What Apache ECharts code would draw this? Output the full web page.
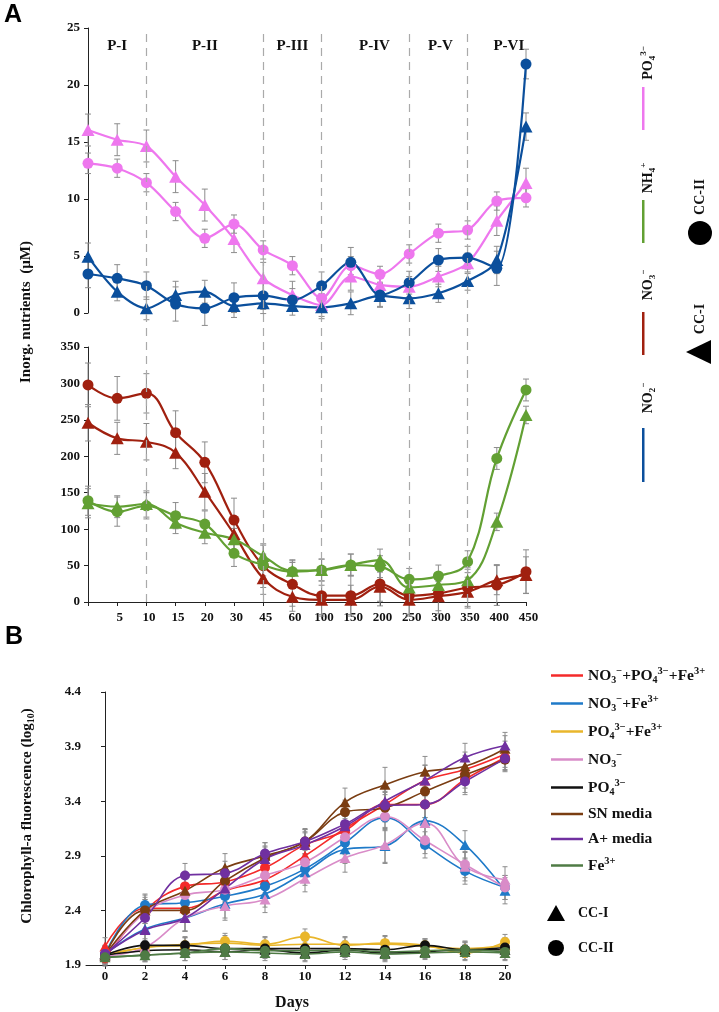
<!DOCTYPE html>
<html><head><meta charset="utf-8">
<script src="https://cdn.jsdelivr.net/npm/echarts@6/dist/echarts.min.js"></script>
<style>html,body{margin:0;padding:0;background:#fff}#c{width:719px;height:1012px}</style>
</head><body><div id="c"></div>
<script>
// ---------- Panel A data ----------
const sampleLabels = ['0','5','10','15','20','30','45','60','100','150','200','250','300','350','400','450'];
const periodBounds = ['0','10','45','100','250','350','450'];
const periodNames = ['P-I','P-II','P-III','P-IV','P-V','P-VI'];
const po4CC1 = [16.05,15.2,14.65,11.96,9.47,6.5,3.04,1.58,0.7,3.2,2.46,2.3,3.2,4.36,8.1,11.4];
const po4CC2 = [13.13,12.7,11.43,8.9,6.55,7.8,5.53,4.15,1.3,4.15,3.4,5.18,7.0,7.28,9.82,10.1];
const no2CC1 = [4.94,1.87,0.41,1.58,1.87,0.61,0.85,0.61,0.5,0.85,1.5,1.29,1.73,2.8,4.65,16.35];
const no2CC2 = [3.42,3.04,2.4,0.79,0.41,1.34,1.52,1.14,2.4,4.45,1.58,2.66,4.65,4.85,3.92,21.84];
const no3CC1 = [246,224.6,220,205,151.4,93.3,32.5,7.3,3,3,21,3,8,14,30,37];
const no3CC2 = [298,279.5,286.4,232.4,191.7,112.5,49.9,24.2,8.7,8.7,24.7,8.7,11.9,19.7,23.3,41.6];
const nh4CC1 = [135.5,130.8,134.5,108.9,95,86,63,43,43.9,50.8,57.6,20,23.3,30,110,256.7];
const nh4CC2 = [139,124,132,118.5,107,66.8,50.8,41.6,43.9,50.8,48.5,31.1,35.7,55.3,197,291];
const po4CC1Err = [1.4,1.4,1.4,1.4,1.4,1.2,1.4,1.2,1.0,1.2,1.0,0.9,0.9,0.9,1.3,1.3];
const po4CC2Err = [0.9,0.8,0.8,0.8,0.8,0.8,0.8,0.8,0.8,0.8,0.7,0.8,0.8,0.8,0.8,0.8];
const no2CC1Err = [1.2,0.8,1.0,1.2,1.0,1.0,0.9,0.8,1.0,1.0,1.0,0.9,0.8,0.8,1.2,1.2];
const no2CC2Err = [1.2,1.2,1.2,1.5,1.5,1.3,1.2,1.0,1.2,1.3,1.0,1.0,1.0,1.0,1.5,1.3];
const no3CC1Err = [25,22,25,22,25,22,22,20,20,20,20,20,20,20,20,25];
const no3CC2Err = [30,30,27,30,28,30,30,30,28,28,30,28,28,28,28,30];
const nh4CC1Err = [20,15,18,15,15,15,15,15,15,15,15,15,15,15,12,12];
const nh4CC2Err = [20,20,18,18,18,18,15,15,15,15,15,15,15,15,15,15];

// ---------- Panel B data ----------
const days = [0,2,4,6,8,10,12,14,16,18,20];
const bNames = ['NO3+PO4+Fe','NO3+Fe','PO4+Fe','NO3','PO4','SN media','A+ media','Fe'];
const allCC1 = [2.07,2.42,2.42,2.58,2.68,2.90,3.15,3.37,3.59,3.69,3.83];
const allCC2 = [1.96,2.40,2.62,2.66,2.79,3.00,3.13,3.37,3.37,3.60,3.80];
const no3feCC1 = [2.00,2.23,2.33,2.46,2.55,2.75,2.96,2.99,3.22,3.00,2.58];
const no3feCC2 = [2.00,2.45,2.47,2.53,2.62,2.78,3.02,3.25,3.00,2.76,2.61];
const po4feCC1 = [2.00,2.06,2.09,2.10,2.08,2.09,2.09,2.09,2.07,2.05,2.08];
const po4feCC2 = [1.98,2.06,2.08,2.12,2.09,2.16,2.08,2.10,2.08,2.01,2.11];
const no3CC1b = [1.98,2.06,2.33,2.44,2.50,2.69,2.88,3.00,3.20,2.80,2.68];
const no3CC2b = [1.98,2.38,2.54,2.59,2.72,2.84,3.07,3.26,3.04,2.82,2.61];
const po4CC1b = [1.99,2.03,2.04,2.02,2.04,2.01,2.04,2.01,2.02,2.04,2.04];
const po4CC2b = [1.99,2.08,2.08,2.05,2.05,2.05,2.05,2.04,2.08,2.04,2.06];
const snCC1 = [1.99,2.40,2.58,2.79,2.90,3.03,3.39,3.55,3.67,3.72,3.88];
const snCC2 = [1.99,2.40,2.40,2.67,2.88,3.03,3.30,3.34,3.49,3.64,3.78];
const apCC1 = [2.00,2.22,2.33,2.60,2.87,3.00,3.17,3.40,3.59,3.80,3.91];
const apCC2 = [2.00,2.33,2.72,2.74,2.92,3.03,3.19,3.36,3.37,3.58,3.79];
const feCC1 = [1.97,1.99,2.01,2.02,2.01,2.00,2.02,2.00,2.01,2.02,2.01];
const feCC2 = [1.97,1.99,2.01,2.05,2.03,2.03,2.04,2.02,2.03,2.04,2.02];
const errHigh1 = [0.08,0.12,0.12,0.13,0.12,0.12,0.13,0.16,0.14,0.13,0.12];
const errHigh2 = [0.07,0.10,0.11,0.11,0.10,0.11,0.11,0.12,0.12,0.12,0.11];
const errLow = [0.06,0.06,0.07,0.07,0.07,0.07,0.07,0.07,0.06,0.07,0.07];

// ---------- styling ----------
const SERIF = '"Liberation Serif","Times New Roman",serif';
const colA = {po4:'#ee77ee', no2:'#0b4f9c', no3:'#a0200f', nh4:'#62a033'};
const colB = ['#f42a2a','#1f7ac8','#e9b62b','#d98cc8','#111111','#7a3d12','#7030a0','#4f7b45'];
const periodLabelShift = [0,0,0,9,2,12];
const richSty = {
  n:{fontFamily:SERIF,fontWeight:'bold',fontSize:14,lineHeight:18,color:'#111'},
  b:{fontFamily:SERIF,fontWeight:'bold',fontSize:9,lineHeight:10,verticalAlign:'bottom',color:'#111'},
  p:{fontFamily:SERIF,fontWeight:'bold',fontSize:9,lineHeight:10,verticalAlign:'top',color:'#111'}
};
const richLeg = {
  n:{fontFamily:SERIF,fontWeight:'bold',fontSize:15.5,lineHeight:19,color:'#111'},
  b:{fontFamily:SERIF,fontWeight:'bold',fontSize:10,lineHeight:10,verticalAlign:'bottom',color:'#111'},
  p:{fontFamily:SERIF,fontWeight:'bold',fontSize:10.5,lineHeight:11,verticalAlign:'top',color:'#111'}
};
const legendRich = {
  'NO3+PO4+Fe':'{n|NO}{b|3}{p|−}{n|+PO}{b|4}{p|3−}{n|+Fe}{p|3+}',
  'NO3+Fe':'{n|NO}{b|3}{p|−}{n|+Fe}{p|3+}',
  'PO4+Fe':'{n|PO}{b|4}{p|3−}{n|+Fe}{p|3+}',
  'NO3':'{n|NO}{b|3}{p|−}',
  'PO4':'{n|PO}{b|4}{p|3−}',
  'SN media':'{n|SN media}',
  'A+ media':'{n|A+ media}',
  'Fe':'{n|Fe}{p|3+}'
};
const idx = sampleLabels.map((_, i) => i);

function errSeries(xi, yi, xs, vals, errs, cap) {
  return {type:'custom', xAxisIndex:xi, yAxisIndex:yi, z:1, silent:true, clip:false,
    data: vals.map((v,i)=>[xs[i], v, errs[i]]),
    renderItem:(params, api)=>{
      const x = api.value(0), y = api.value(1), e = api.value(2);
      const a = api.coord([x, y+e]), b = api.coord([x, y-e]);
      const s = {stroke:'#8c8c8c', lineWidth:1};
      return {type:'group', children:[
        {type:'line', shape:{x1:a[0],y1:a[1],x2:b[0],y2:b[1]}, style:s},
        {type:'line', shape:{x1:a[0]-cap,y1:a[1],x2:a[0]+cap,y2:a[1]}, style:s},
        {type:'line', shape:{x1:b[0]-cap,y1:b[1],x2:b[0]+cap,y2:b[1]}, style:s}]};
    }};
}
function lineSeries(name, xi, yi, xs, vals, color, symbol, size, width, smooth) {
  return {name, type:'line', xAxisIndex:xi, yAxisIndex:yi, z:3,
    data: vals.map((v,i)=>[xs[i], v]), symbol, symbolSize:size, smooth,
    lineStyle:{color, width}, itemStyle:{color}, emphasis:{disabled:true}};
}
const TRI_A = [13,12], CIR_A = 11, TRI_B = [11,10], CIR_B = 10;

const series = [];
// Panel A upper
[[po4CC1,po4CC1Err,colA.po4,'triangle'],[po4CC2,po4CC2Err,colA.po4,'circle'],
 [no2CC1,no2CC1Err,colA.no2,'triangle'],[no2CC2,no2CC2Err,colA.no2,'circle']].forEach((d,k)=>{
  series.push(errSeries(0,0,idx,d[0],d[1],3));
  series.push(lineSeries('A-up-'+k,0,0,idx,d[0],d[2],d[3],d[3]==='triangle'?TRI_A:CIR_A,2.2,0.3));
});
// Panel A lower
[[no3CC1,no3CC1Err,colA.no3,'triangle'],[no3CC2,no3CC2Err,colA.no3,'circle'],
 [nh4CC1,nh4CC1Err,colA.nh4,'triangle'],[nh4CC2,nh4CC2Err,colA.nh4,'circle']].forEach((d,k)=>{
  series.push(errSeries(1,1,idx,d[0],d[1],3));
  series.push(lineSeries('A-lo-'+k,1,1,idx,d[0],d[2],d[3],d[3]==='triangle'?TRI_A:CIR_A,2.2,0.4));
});
// Dashed period separators and period labels (hidden full-height grid)
series.push({type:'line', xAxisIndex:2, yAxisIndex:2, data:[], silent:true,
  markLine:{silent:true, symbol:'none', label:{show:false},
    lineStyle:{color:'#aaaaaa', type:[8,6], width:1.2},
    data: periodBounds.slice(1,-1).map(v=>({xAxis: sampleLabels.indexOf(v)}))},
  markArea:{silent:true, itemStyle:{color:'rgba(0,0,0,0)'},
    label:{show:true, position:'insideTop', distance:11, fontFamily:SERIF, fontWeight:'bold', fontSize:15, color:'#111'},
    data: periodNames.map((n,i)=>[{name:n, xAxis: sampleLabels.indexOf(periodBounds[i]),
      label:{offset:[periodLabelShift[i],0]}},{xAxis: sampleLabels.indexOf(periodBounds[i+1])}])}
});
// Panel B
const bData = [[allCC1,allCC2],[no3feCC1,no3feCC2],[po4feCC1,po4feCC2],[no3CC1b,no3CC2b],
               [po4CC1b,po4CC2b],[snCC1,snCC2],[apCC1,apCC2],[feCC1,feCC2]];
const lowSet = [2,4,7];
bData.forEach((d,k)=>{
  const e1 = lowSet.includes(k) ? errLow : errHigh1;
  const e2 = lowSet.includes(k) ? errLow : errHigh2;
  series.push(errSeries(3,3,days,d[0],e1,2.5));
  series.push(errSeries(3,3,days,d[1],e2,2.5));
});
bData.forEach((d,k)=>{
  series.push(lineSeries(bNames[k],3,3,days,d[0],colB[k],'triangle',TRI_B,1.6,0.4));
  series.push(lineSeries(bNames[k],3,3,days,d[1],colB[k],'circle',CIR_B,1.6,0.4));
});

const axisLbl = {fontFamily:SERIF, fontWeight:'bold', fontSize:13, color:'#111'};
const axLine = {show:true, lineStyle:{color:'#222', width:1}};
const axTick = {show:true, length:4, lineStyle:{color:'#222'}};

function vText(x, y, text, rich, size) {
  return {type:'text', x, y, rotation:Math.PI/2,
    style:{text, rich: rich || richSty, align:'center', verticalAlign:'middle',
      fontFamily:SERIF, fontWeight:'bold', fontSize:size||14, fill:'#111'}};
}

const option = {
  animation:false,
  backgroundColor:'#fff',
  grid:[
    {left:88, top:28, width:438, height:285},
    {left:88, top:347, width:438, height:255},
    {left:88, top:28, width:438, height:574},
    {left:86, top:692, width:422, height:274}
  ],
  xAxis:[
    {gridIndex:0, type:'category', data:sampleLabels, boundaryGap:false, show:false},
    {gridIndex:1, type:'category', data:sampleLabels, boundaryGap:false,
      axisLine:axLine, axisTick:{show:true, length:4, interval:0, lineStyle:{color:'#222'}},
      axisLabel:Object.assign({interval:0, margin:9, padding:[0,0,0,5], formatter:(v,i)=> i===0 ? '' : v}, axisLbl)},
    {gridIndex:2, type:'category', data:sampleLabels, boundaryGap:false, show:false},
    {gridIndex:3, type:'value', min:-0.95, max:20.15,
      axisLine:axLine, axisTick:Object.assign({customValues:days}, axTick),
      axisLabel:Object.assign({customValues:days, margin:5}, axisLbl),
      splitLine:{show:false},
      name:'Days', nameLocation:'middle', nameGap:30,
      nameTextStyle:{fontFamily:SERIF, fontWeight:'bold', fontSize:16, color:'#111', padding:[0,10,0,0]}}
  ],
  yAxis:[
    {gridIndex:0, type:'value', min:0, max:25, interval:5, axisLine:axLine, axisTick:axTick,
      axisLabel:Object.assign({margin:8}, axisLbl), splitLine:{show:false}},
    {gridIndex:1, type:'value', min:0, max:350, interval:50, axisLine:axLine, axisTick:axTick,
      axisLabel:Object.assign({margin:8}, axisLbl), splitLine:{show:false}},
    {gridIndex:2, type:'value', min:0, max:1, show:false},
    {gridIndex:3, type:'value', min:1.9, max:4.4, interval:0.5, axisLine:axLine, axisTick:axTick,
      axisLabel:Object.assign({margin:5, formatter:v=>v.toFixed(1)}, axisLbl), splitLine:{show:false}}
  ],
  legend:{
    data:bNames, orient:'vertical', left:546, top:661, icon:'rect',
    itemWidth:32, itemHeight:2.5, itemGap:9, selectedMode:false,
    formatter:n=>legendRich[n],
    textStyle:{rich:richLeg, fontFamily:SERIF, fontWeight:'bold', fontSize:15.5, color:'#111'}
  },
  graphic:[
    {type:'text', x:13, y:15, style:{text:'A', align:'center', verticalAlign:'middle',
      fontFamily:'"Liberation Sans",Arial,sans-serif', fontWeight:'bold', fontSize:25, fill:'#000'}},
    {type:'text', x:14, y:637, style:{text:'B', align:'center', verticalAlign:'middle',
      fontFamily:'"Liberation Sans",Arial,sans-serif', fontWeight:'bold', fontSize:25, fill:'#000'}},
    vText(26, 312, '{n|Inorg. nutrients  (µM)}', {n:{fontFamily:SERIF,fontWeight:'bold',fontSize:15,color:'#111'}}),
    vText(27, 816, '{n|Chlorophyll-a fluorescence (log}{b|10}{n|)}',
      {n:{fontFamily:SERIF,fontWeight:'bold',fontSize:15,lineHeight:19,color:'#111'},
       b:{fontFamily:SERIF,fontWeight:'bold',fontSize:10,lineHeight:10,verticalAlign:'bottom',color:'#111'}}),
    // Panel A legend (rotated)
    vText(648, 63, '{n|PO}{b|4}{p|3−}'),
    {type:'rect', shape:{x:642, y:87, width:2.5, height:43}, style:{fill:colA.po4}},
    vText(648, 178, '{n|NH}{b|4}{p|+}'),
    {type:'rect', shape:{x:642, y:200, width:2.5, height:43}, style:{fill:colA.nh4}},
    vText(648, 285, '{n|NO}{b|3}{p|−}'),
    {type:'rect', shape:{x:642, y:312, width:2.5, height:43}, style:{fill:colA.no3}},
    vText(648, 398, '{n|NO}{b|2}{p|−}'),
    {type:'rect', shape:{x:642, y:428, width:2.5, height:54}, style:{fill:colA.no2}},
    vText(700, 197, '{n|CC-II}'),
    {type:'circle', shape:{cx:700, cy:233, r:12}, style:{fill:'#000'}},
    vText(700, 319, '{n|CC-I}'),
    {type:'polygon', shape:{points:[[686,352],[711,340],[711,364]]}, style:{fill:'#000'}},
    // Panel B marker key
    {type:'polygon', shape:{points:[[556,905],[547,921],[565,921]]}, style:{fill:'#000'}},
    {type:'text', x:578, y:913, style:{text:'CC-I', verticalAlign:'middle', fontFamily:SERIF, fontWeight:'bold', fontSize:14, fill:'#111'}},
    {type:'circle', shape:{cx:556, cy:948, r:8}, style:{fill:'#000'}},
    {type:'text', x:578, y:948, style:{text:'CC-II', verticalAlign:'middle', fontFamily:SERIF, fontWeight:'bold', fontSize:14, fill:'#111'}}
  ],
  series
};
const chart = echarts.init(document.getElementById('c'), null, {renderer:'canvas'});
chart.setOption(option);
</script></body></html>
